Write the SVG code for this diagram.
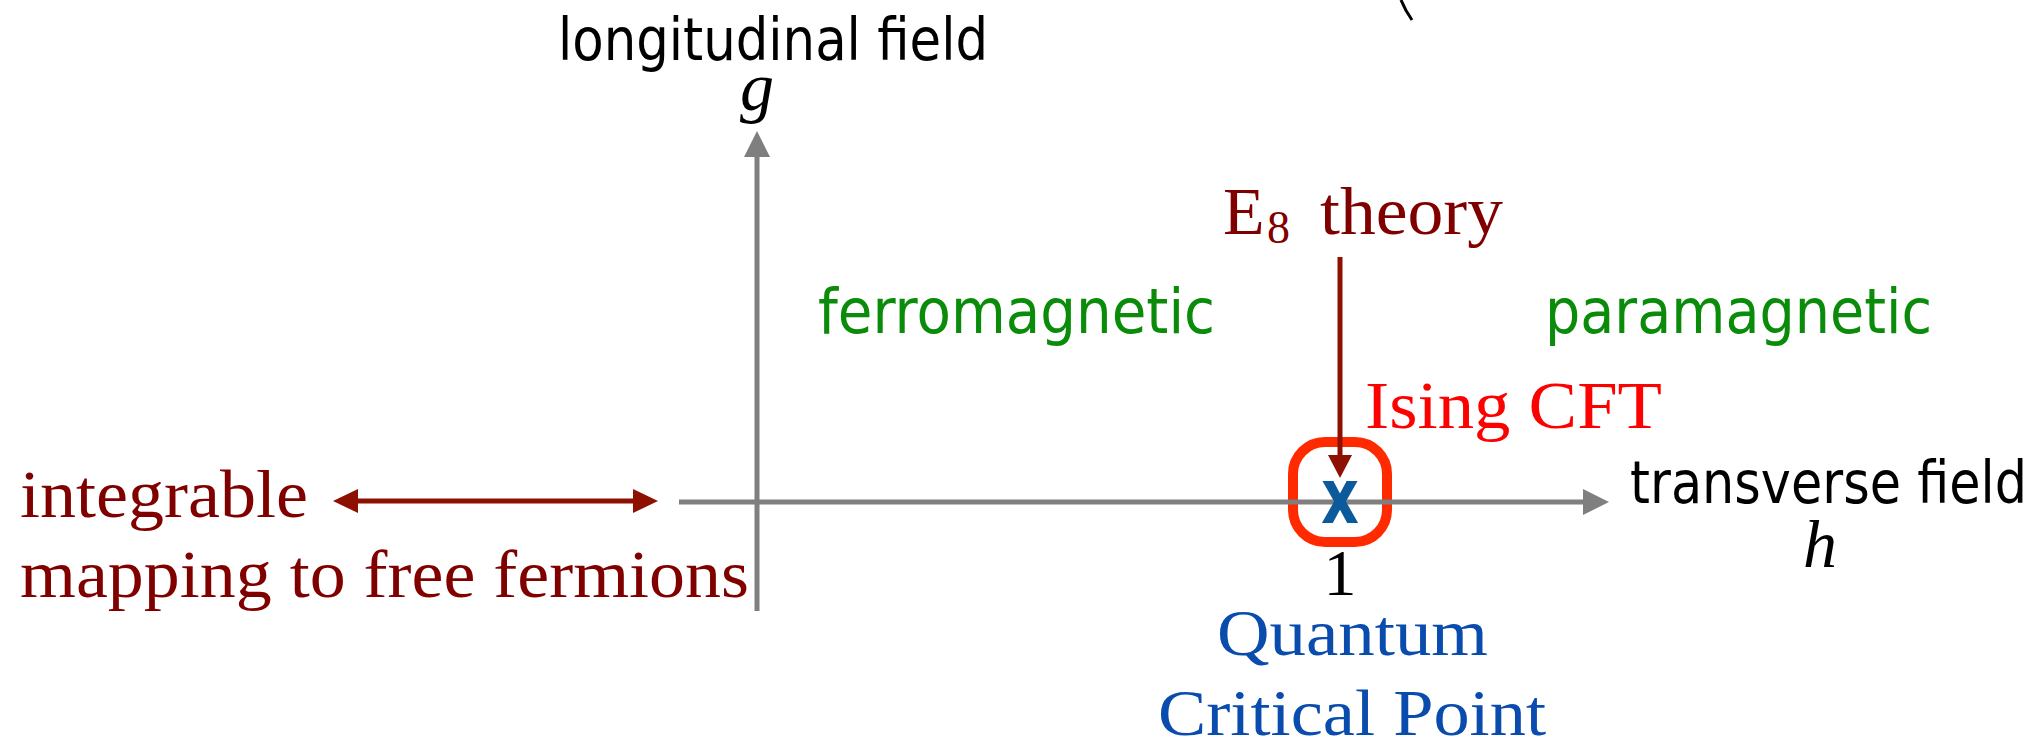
<svg xmlns="http://www.w3.org/2000/svg" width="2036" height="739" viewBox="0 0 2036 739">
<style>
.sans{font-family:"DejaVu Sans","Liberation Sans",sans-serif;}
.serif{font-family:"Liberation Serif","DejaVu Serif",serif;}
.blk{fill:#000;}
.green{fill:#0a8c0a;}
.maroon{fill:#800000;}
.red{fill:#ff0000;}
.blue{fill:#0a4cae;}
.axis{stroke:#7f7f7f;stroke-width:5;fill:none;}
.axhead{fill:#7f7f7f;}
.darr{stroke:#8e1000;stroke-width:5;fill:none;}
.darrhead{fill:#8e1000;}
</style>
<rect width="2036" height="739" fill="#fff"/>
<path d="M1401,0 Q1405,10 1412,20" stroke="#000" stroke-width="3" fill="none"/>
<g id="node-ring">
<rect x="1293" y="442" width="94" height="100" rx="32" ry="32" fill="none" stroke="#ff2a00" stroke-width="10"/>
</g>
<g id="connectors">
<line class="axis" x1="757" y1="611" x2="757" y2="154"/>
<polygon class="axhead" points="757,131 744,157 770,157"/>
<line class="axis" x1="679" y1="502" x2="1586" y2="502"/>
<polygon class="axhead" points="1609,502 1583,489 1583,515"/>
<line class="darr" x1="355" y1="501" x2="636" y2="501"/>
<polygon class="darrhead" points="333,501 358,489 358,513"/>
<polygon class="darrhead" points="658,501 633,489 633,513"/>
</g>
<g id="node-critical-point">
<text class="sans" x="1340" y="523" font-size="76" font-weight="bold" text-anchor="middle" fill="#0b5a9c" textLength="38" lengthAdjust="spacingAndGlyphs">x</text>
</g>
<g id="connector-e8">
<line class="darr" x1="1340" y1="257" x2="1340" y2="457"/>
<polygon class="darrhead" points="1340,478 1328,455 1352,455"/>
</g>
<g id="node-g-axis">
<text class="sans blk" x="558" y="60" font-size="58" textLength="430" lengthAdjust="spacingAndGlyphs">longitudinal field</text>
<text class="serif blk" x="757" y="110" font-size="68" font-style="italic" text-anchor="middle">g</text>
</g>
<g id="node-h-axis">
<text class="sans blk" x="1630" y="503" font-size="58" textLength="397" lengthAdjust="spacingAndGlyphs">transverse field</text>
<text class="serif blk" x="1820" y="567" font-size="68" font-style="italic" text-anchor="middle">h</text>
</g>
<g id="node-ferro">
<text class="sans green" x="818" y="333" font-size="62" textLength="397" lengthAdjust="spacingAndGlyphs">ferromagnetic</text>
</g>
<g id="node-para">
<text class="sans green" x="1545" y="333" font-size="62" textLength="387" lengthAdjust="spacingAndGlyphs">paramagnetic</text>
</g>
<g id="node-e8">
<text class="serif maroon" x="1223" y="234" font-size="68">E</text>
<text class="serif maroon" x="1267" y="243" font-size="46">8</text>
<text class="serif maroon" x="1320" y="234" font-size="68" textLength="183" lengthAdjust="spacingAndGlyphs">theory</text>
</g>
<g id="node-ising">
<text class="serif red" x="1365" y="428" font-size="68" textLength="297" lengthAdjust="spacingAndGlyphs">Ising CFT</text>
</g>
<g id="node-integrable">
<text class="serif maroon" x="20" y="517" font-size="68" textLength="288" lengthAdjust="spacingAndGlyphs">integrable</text>
<text class="serif maroon" x="20" y="597" font-size="68" textLength="729" lengthAdjust="spacingAndGlyphs">mapping to free fermions</text>
</g>
<g id="node-one">
<text class="serif blk" x="1340" y="595" font-size="66" text-anchor="middle">1</text>
</g>
<g id="node-qcp">
<text class="serif blue" x="1217" y="655" font-size="66" textLength="271" lengthAdjust="spacingAndGlyphs">Quantum</text>
<text class="serif blue" x="1158" y="735" font-size="66" textLength="388" lengthAdjust="spacingAndGlyphs">Critical Point</text>
</g>
</svg>
